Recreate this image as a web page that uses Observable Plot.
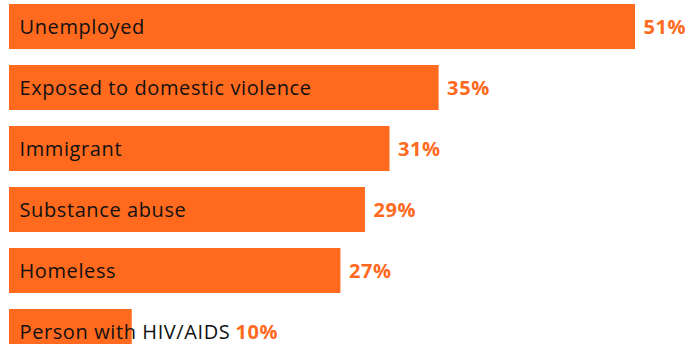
<!DOCTYPE html>
<html>
<head>
<meta charset="utf-8">
<script src="https://cdn.jsdelivr.net/npm/d3@7"></script>
<script src="https://cdn.jsdelivr.net/npm/@observablehq/plot@0.6"></script>
<style>
  html, body { margin: 0; padding: 0; background: #fff; overflow: hidden; }
  #chart svg { display: block; overflow: hidden; }
  #chart svg text { letter-spacing: 0.6px; }
</style>
</head>
<body>
<div id="chart"></div>
<script>
const categories = ["Unemployed", "Exposed to domestic violence", "Immigrant", "Substance abuse", "Homeless", "Person with HIV/AIDS"];
const values = [51, 35, 31, 29, 27, 10];
const valueLabels = ["51%", "35%", "31%", "29%", "27%", "10%"];

const data = categories.map((c, i) => ({category: c, value: values[i], label: valueLabels[i]}));

const W = 692, H = 344;
const marginLeft = 9, marginRight = 57;
const xDomain = [0, d3.max(values)];
const xScale = d3.scaleLinear().domain(xDomain).range([marginLeft, W - marginRight]);

const fontFamily = "'Open Sans', sans-serif";
const labelSize = 20;
const valueSize = 20;
const labelPad = 10;
const valueGap = 8;
const spacing = 0.6;

// measure label widths so an overflowing label pushes its value label right
const ctx = document.createElement("canvas").getContext("2d");
ctx.font = `${labelSize}px ${fontFamily}`;
data.forEach(d => {
  const w = ctx.measureText(d.category).width + spacing * d.category.length;
  const endPx = xScale(0) + labelPad + w - 3;
  d.valuePos = Math.max(d.value, xScale.invert(endPx));
});

const orange = "#FF6A1E";

const plot = Plot.plot({
  width: W,
  height: H,
  marginLeft, marginRight, marginTop: 0, marginBottom: 0,
  x: {domain: xDomain, axis: null},
  y: {domain: categories, range: [4, 354], paddingInner: 0.262, paddingOuter: 0, round: false, axis: null},
  style: {fontFamily, background: "#fff"},
  marks: [
    Plot.barX(data, {x: "value", y: "category", fill: orange}),
    Plot.text(data, {x: 0, y: "category", text: "category", textAnchor: "start", dx: labelPad, dy: 1, fill: "#111", fontSize: labelSize}),
    Plot.text(data, {x: "valuePos", y: "category", text: "label", textAnchor: "start", dx: valueGap, dy: 1, fill: orange, fontSize: valueSize, fontWeight: "bold"})
  ]
});
document.getElementById("chart").appendChild(plot);
</script>
</body>
</html>
